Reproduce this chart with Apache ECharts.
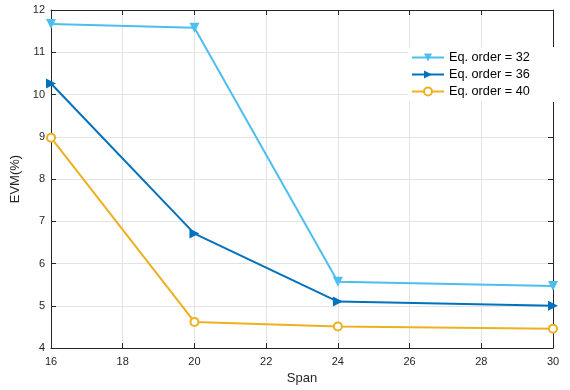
<!DOCTYPE html>
<html>
<head>
<meta charset="utf-8">
<script src="https://cdn.jsdelivr.net/npm/echarts@6/dist/echarts.min.js"></script>
<style>
  html, body { margin: 0; padding: 0; background: #fff; }
  #main { width: 570px; height: 390px; }
</style>
</head>
<body>
<div id="main"></div>
<script>
// span values on the x axis
var spans = [16, 20, 24, 30];
// EVM (%) per equalizer order
var evmOrder32 = [11.67, 11.58, 5.57, 5.47];
var evmOrder36 = [10.26, 6.71, 5.10, 5.00];
var evmOrder40 = [8.98, 4.62, 4.51, 4.46];
var seriesNames = ['Eq. order = 32', 'Eq. order = 36', 'Eq. order = 40'];

function pairs(xs, ys) {
	var out = [];
	for (var i = 0; i < xs.length; i++) {
		out.push([xs[i], ys[i]]);
	}
	return out;
}

var myChart = echarts.init(document.getElementById('main'));

var axisLine = { show: true, lineStyle: { color: '#262626', width: 1 } };
var tickStyle = { show: true, inside: true, length: 5, lineStyle: { color: '#262626' } };
var fontFamily = 'Liberation Sans, Arial, sans-serif';

var option = {
	animation: false,
	backgroundColor: '#fff',
	grid: {
		left: 51,
		right: 17,
		top: 10,
		bottom: 36,
		containLabel: false
	},
	legend: {
		left: 408,
		top: 47,
		orient: 'vertical',
		itemWidth: 32,
		itemHeight: 10,
		itemGap: 4,
		backgroundColor: '#fff',
		padding: [4, 26, 4, 3],
		textStyle: { fontSize: 12.7, color: '#000', fontFamily: fontFamily },
		data: seriesNames
	},
	xAxis: [{
		type: 'value',
		min: 16,
		max: 30,
		interval: 2,
		name: 'Span',
		nameLocation: 'middle',
		nameGap: 16,
		nameTextStyle: { fontSize: 13, color: '#262626', fontFamily: fontFamily },
		axisLine: axisLine,
		axisTick: tickStyle,
		axisLabel: { fontSize: 11, color: '#262626', margin: 8, fontFamily: fontFamily },
		splitLine: { show: true, lineStyle: { color: '#e3e3e3' } }
	}, {
		type: 'value',
		position: 'top',
		min: 16,
		max: 30,
		interval: 2,
		axisLine: axisLine,
		axisTick: tickStyle,
		axisLabel: { show: false },
		splitLine: { show: false }
	}],
	yAxis: [{
		type: 'value',
		min: 4,
		max: 12,
		interval: 1,
		name: 'EVM(%)',
		nameLocation: 'middle',
		nameGap: 24,
		nameTextStyle: { fontSize: 13, color: '#262626', fontFamily: fontFamily },
		axisLine: axisLine,
		axisTick: tickStyle,
		axisLabel: { fontSize: 11, color: '#262626', margin: 6, fontFamily: fontFamily },
		splitLine: { show: true, lineStyle: { color: '#e3e3e3' } }
	}, {
		type: 'value',
		position: 'right',
		min: 4,
		max: 12,
		interval: 1,
		axisLine: axisLine,
		axisTick: tickStyle,
		axisLabel: { show: false },
		splitLine: { show: false }
	}],
	series: [{
		name: seriesNames[0],
		type: 'line',
		data: pairs(spans, evmOrder32),
		color: '#4DBEEE',
		symbol: 'triangle',
		symbolRotate: 180,
		symbolSize: 10,
		lineStyle: { width: 2 },
		itemStyle: { color: '#4DBEEE' }
	}, {
		name: seriesNames[1],
		type: 'line',
		data: pairs(spans, evmOrder36),
		color: '#0072BD',
		symbol: 'triangle',
		symbolRotate: -90,
		symbolSize: 10,
		lineStyle: { width: 2 },
		itemStyle: { color: '#0072BD' }
	}, {
		name: seriesNames[2],
		type: 'line',
		data: pairs(spans, evmOrder40),
		color: '#EDB120',
		symbol: 'emptyCircle',
		symbolSize: 8,
		lineStyle: { width: 2 },
		itemStyle: { color: '#EDB120', borderWidth: 1.5 }
	}]
};

myChart.setOption(option);
</script>
</body>
</html>
